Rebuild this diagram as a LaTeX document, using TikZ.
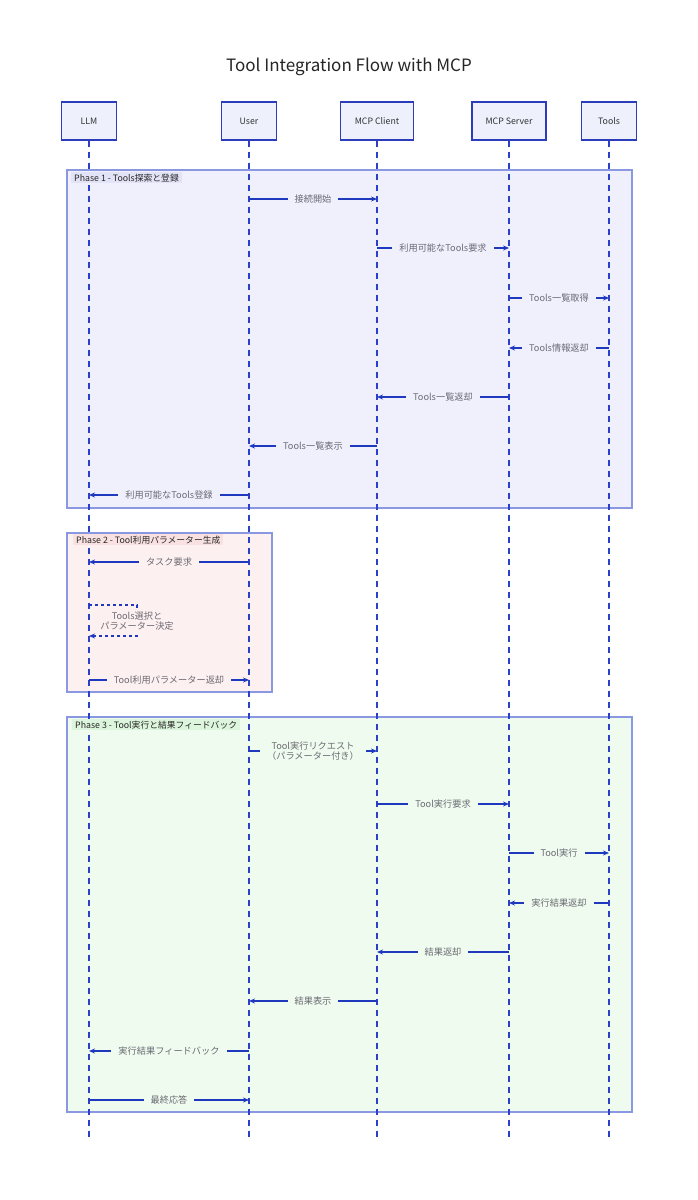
\documentclass[tikz,border=0pt]{standalone}
\usepackage{fontspec}
\setmainfont{Noto Sans CJK JP}
\usetikzlibrary{arrows.meta}
\definecolor{actline}{HTML}{2B3DB8}
\definecolor{actfill}{HTML}{EEF0FC}
\definecolor{lifec}{HTML}{2A40C8}
\definecolor{msgc}{HTML}{1E38BE}
\definecolor{txtc}{HTML}{6A6A72}
\definecolor{phline}{HTML}{8A98E2}
\definecolor{phA}{HTML}{F0F0FD}
\definecolor{phB}{HTML}{FDF0F0}
\definecolor{phC}{HTML}{EFFBEF}
\definecolor{phAl}{HTML}{E3E3F7}
\definecolor{phBl}{HTML}{F9E1E1}
\definecolor{phCl}{HTML}{DCF5DC}
\begin{document}
\begin{tikzpicture}[x=1pt,y=-1pt,
  actor/.style={draw=actline, fill=actfill, line width=1.4pt, minimum width=#1,
    minimum height=38pt, inner sep=0pt, font=\fontsize{8.8}{10}\selectfont, text=black!80},
  life/.style={draw=lifec, line width=1.6pt, dash pattern=on 6pt off 5pt},
  phase/.style={draw=phline, line width=1.3pt},
  phlbl/.style={anchor=north west, inner xsep=3pt, inner ysep=1.5pt,
    font=\fontsize{8.8}{10}\selectfont, text=black!85},
  msg/.style={draw=msgc, line width=1.1pt, -{Stealth[length=6pt,width=5pt]}},
  lbl/.style={fill=#1, inner xsep=7pt, inner ysep=1pt, text=txtc,
    font=\fontsize{9.2}{11}\selectfont, align=center}
]
\useasboundingbox (0,0) rectangle (698,1200);
\fill[white] (0,0) rectangle (698,1200);

% title
\node[font=\fontsize{17}{20}\selectfont, text=black!85] (title) at (349,67) {Tool Integration Flow with MCP};

% phases
\draw[phase, fill=phA] (67,170) rectangle (632,508);
\draw[phase, fill=phB] (67,533) rectangle (272,692);
\draw[phase, fill=phC] (67,717) rectangle (632,1112);

% actors
\node[actor=55pt] (llm) at (89,121) {LLM};
\node[actor=55pt] (user) at (249,121) {User};
\node[actor=73pt] (client) at (377,121) {MCP Client};
\node[actor=74pt] (server) at (509,121) {MCP Server};
\node[actor=55pt] (tools) at (609,121) {Tools};

% lifelines
\foreach \a in {llm,user,client,server,tools}
  \draw[life] (\a.south) -- (\a |- 0,1140);

% phase labels
\node[phlbl, fill=phAl] (p1) at (71,172) {Phase 1 - Tools探索と登録};
\node[phlbl, fill=phBl] (p2) at (73,534) {Phase 2 - Tool利用パラメーター生成};
\node[phlbl, fill=phCl] (p3) at (72,719) {Phase 3 - Tool実行と結果フィードバック};

% phase 1 messages
\draw[msg] (user |- 0,199) -- node[lbl=phA] {接続開始} (client |- 0,199);
\draw[msg] (client |- 0,248) -- node[lbl=phA] {利用可能なTools要求} (server |- 0,248);
\draw[msg] (server |- 0,298) -- node[lbl=phA] {Tools一覧取得} (tools |- 0,298);
\draw[msg] (tools |- 0,348) -- node[lbl=phA] {Tools情報返却} (server |- 0,348);
\draw[msg] (server |- 0,397) -- node[lbl=phA] {Tools一覧返却} (client |- 0,397);
\draw[msg] (client |- 0,446) -- node[lbl=phA] {Tools一覧表示} (user |- 0,446);
\draw[msg] (user |- 0,495) -- node[lbl=phA] {利用可能なTools登録} (llm |- 0,495);

% phase 2 messages
\draw[msg] (user |- 0,562) -- node[lbl=phB] {タスク要求} (llm |- 0,562);
\coordinate (loopA) at (137,605);
\coordinate (loopB) at (137,636);
\draw[msg, dashed, line width=1.3pt] (llm |- 0,605) -- (loopA) -- (loopB) -- (llm |- 0,636);
\node[lbl=phB, inner xsep=1pt, font=\fontsize{9.2}{10.5}\selectfont] (selfl) at (137,621) {Tools選択と\\パラメーター決定};
\draw[msg] (llm |- 0,680) -- node[lbl=phB] {Tool利用パラメーター返却} (user |- 0,680);

% phase 3 messages
\draw[msg] (user |- 0,751) -- node[lbl=phC, font=\fontsize{9.2}{10.5}\selectfont] {Tool実行リクエスト\\（パラメーター付き）} (client |- 0,751);
\draw[msg] (client |- 0,804) -- node[lbl=phC] {Tool実行要求} (server |- 0,804);
\draw[msg] (server |- 0,853) -- node[lbl=phC] {Tool実行} (tools |- 0,853);
\draw[msg] (tools |- 0,903) -- node[lbl=phC] {実行結果返却} (server |- 0,903);
\draw[msg] (server |- 0,952) -- node[lbl=phC] {結果返却} (client |- 0,952);
\draw[msg] (client |- 0,1001) -- node[lbl=phC] {結果表示} (user |- 0,1001);
\draw[msg] (user |- 0,1051) -- node[lbl=phC] {実行結果フィードバック} (llm |- 0,1051);
\draw[msg] (llm |- 0,1100) -- node[lbl=phC] {最終応答} (user |- 0,1100);
\end{tikzpicture}
\end{document}
